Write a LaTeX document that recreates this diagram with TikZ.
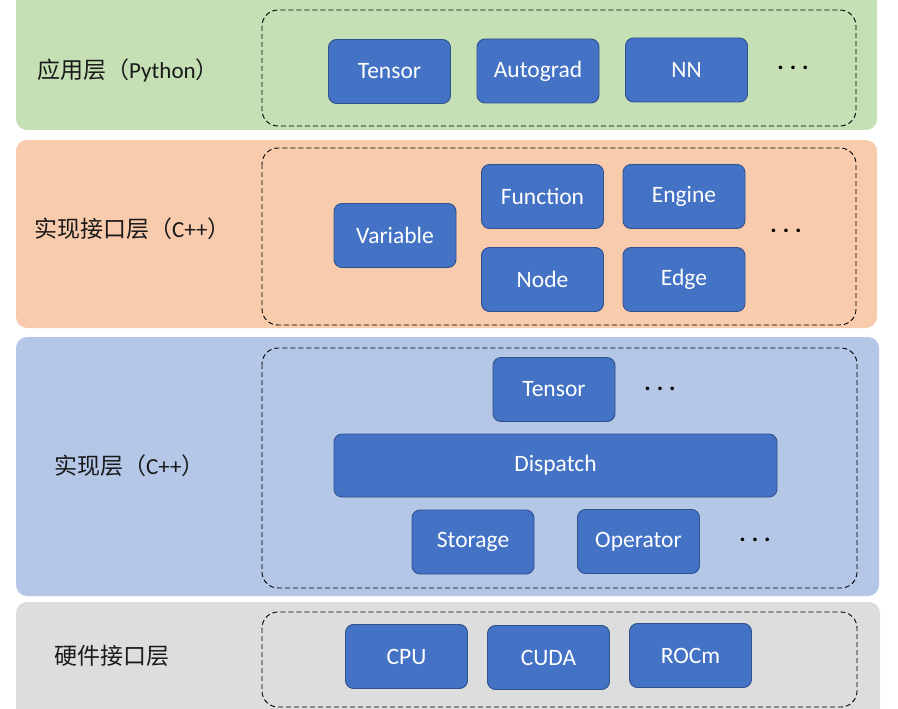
\documentclass[tikz,border=0pt]{standalone}
\usepackage{fontspec}
\setmainfont{Carlito}
\newfontfamily\cjk{Noto Sans CJK SC}
\definecolor{lgreen}{HTML}{C5E0B4}
\definecolor{lorange}{HTML}{F8CBAD}
\definecolor{lblue}{HTML}{B4C7E7}
\definecolor{lgray}{HTML}{DDDDDD}
\definecolor{boxblue}{HTML}{4472C4}
\definecolor{boxborder}{HTML}{2F528F}
\tikzset{
  layer/.style={rounded corners=11pt},
  group/.style={draw=black, line width=0.9pt, dash pattern=on 5pt off 3pt, rounded corners=16pt},
  box/.style={draw=boxborder, fill=boxblue, rounded corners=8pt, text=white,
    minimum width=122pt, minimum height=64pt, inner sep=0pt, line width=0.9pt,
    font=\fontsize{23.5}{28}\selectfont},
  lab/.style={anchor=west, inner sep=0pt, text=black!90, font=\fontsize{23}{28}\selectfont},
  more/.style={inner sep=0pt, font=\bfseries\fontsize{24}{28}\selectfont}
}
\newcommand{\mydots}{.\hspace{6pt}.\hspace{6pt}.}
\begin{document}
\begin{tikzpicture}[x=1pt,y=-1pt]
\useasboundingbox (0,0) rectangle (898,709);
% layers
\fill[lgreen, layer] (16,-15) rectangle (877,130);
\fill[lorange, layer] (16,140) rectangle (877,328);
\fill[lblue, layer] (16,337) rectangle (879,596);
\fill[lgray, layer] (16,602) rectangle (880,725);
% dashed groups
\draw[group] (262,10) rectangle (856,126);
\draw[group] (262,148) rectangle (856,325);
\draw[group] (262,348) rectangle (857,588);
\draw[group] (262,612) rectangle (857,707);
% labels
\node[lab] (l1) at (37,71) {{\cjk 应用层（}Python{\cjk ）}};
\node[lab] (l2) at (34,229) {{\cjk 实现接口层（}C++{\cjk ）}};
\node[lab] (l3) at (54,466) {{\cjk 实现层（}C++{\cjk ）}};
\node[lab] (l4) at (54,656) {{\cjk 硬件接口层}};
% application layer
\node[box] (tensor1) at (389.5,71.5) {Tensor};
\node[box] (autograd) at (538,71) {Autograd};
\node[box] (nn) at (686.5,70) {NN};
\node[more] (d1) at (793,68) {\mydots};
% interface layer
\node[box] (variable) at (395,235.5) {Variable};
\node[box] (function) at (542.5,196.5) {Function};
\node[box] (engine) at (684,196.5) {Engine};
\node[box] (node) at (542.5,279.5) {Node};
\node[box] (edge) at (684,279.5) {Edge};
\node[more] (d2) at (786,231) {\mydots};
% implementation layer
\node[box] (tensor2) at (554,389.5) {Tensor};
\node[more] (d3) at (660,389) {\mydots};
\node[box, minimum width=443pt, minimum height=63pt] (dispatch) at (555.5,465.5) {Dispatch};
\node[box] (storage) at (473,542) {Storage};
\node[box] (operator) at (638.5,541.5) {Operator};
\node[more] (d4) at (755,540) {\mydots};
% hardware layer
\node[box] (cpu) at (406.5,656.5) {CPU};
\node[box] (cuda) at (548.5,657.5) {CUDA};
\node[box] (rocm) at (690.5,655.5) {ROCm};
\end{tikzpicture}
\end{document}
